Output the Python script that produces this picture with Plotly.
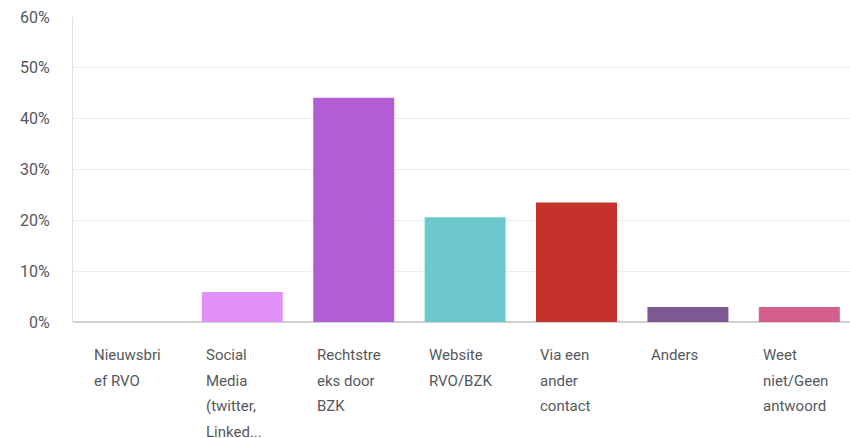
"""
Staafdiagram: via welk kanaal bent u op de hoogte geraakt
"""
import plotly.graph_objects as go

# Data
categories = ['Nieuwsbrief RVO', 'Social Media (twitter, LinkedIn)', 'Rechtstreeks door BZK',
              'Website RVO/BZK', 'Via een ander contact', 'Anders', 'Weet niet/Geen antwoord']
label_lines = [
    ['Nieuwsbri', 'ef RVO'],
    ['Social', 'Media', '(twitter,', 'Linked...'],
    ['Rechtstre', 'eks door', 'BZK'],
    ['Website', 'RVO/BZK'],
    ['Via een', 'ander', 'contact'],
    ['Anders'],
    ['Weet', 'niet/Geen', 'antwoord'],
]
values = [0.0, 5.88, 44.12, 20.59, 23.53, 2.94, 2.94]
bar_colors = ['#5f9ee0', '#e291f8', '#b35dd4', '#6cc8cc', '#c5322b', '#7c5a91', '#d55f8c']
y_ticks = [0, 10, 20, 30, 40, 50, 60]

FONT = 'Roboto'
TEXT_COLOR = '#55585d'

fig = go.Figure()
fig.add_trace(go.Bar(
    x=list(range(len(categories))),
    y=values,
    marker=dict(color=bar_colors, line=dict(width=0)),
    hovertext=categories,
))

# Labels onder de staven, links uitgelijnd
bargap = 0.273
for i, lines in enumerate(label_lines):
    for k, line in enumerate(lines):
        fig.add_annotation(
            x=i - (1 - bargap) / 2, y=0, xref='x', yref='y',
            text=line, showarrow=False,
            xanchor='left', yanchor='middle',
            xshift=2, yshift=-(33 + k * 25.5),
            font=dict(family=FONT, size=15, color=TEXT_COLOR),
        )

fig.update_layout(
    width=850, height=438,
    margin=dict(l=73, r=0, t=17, b=116),
    plot_bgcolor='white', paper_bgcolor='white',
    bargap=bargap,
    showlegend=False,
    font=dict(family=FONT, size=15, color=TEXT_COLOR),
)
fig.update_xaxes(
    range=[-0.52, 6.455],
    showticklabels=False, showgrid=False, zeroline=False,
    showline=False,
)
fig.update_yaxes(
    range=[0, 60],
    tickvals=y_ticks, ticktext=[f'{v}%' for v in y_ticks],
    showgrid=True, gridcolor='#ececec', gridwidth=1,
    zeroline=True, zerolinecolor='#d0d0d0', zerolinewidth=2,
    showline=True, linecolor='#e0e0e0', linewidth=1,
    ticks='', ticklabelstandoff=19,
    tickfont=dict(family=FONT, size=16, color=TEXT_COLOR),
)

# body-marge van de pagina weghalen zodat de figuur op 0,0 staat
fig.write_html("out.html", config={'displayModeBar': False},
               post_script="document.body.style.margin='0';")
